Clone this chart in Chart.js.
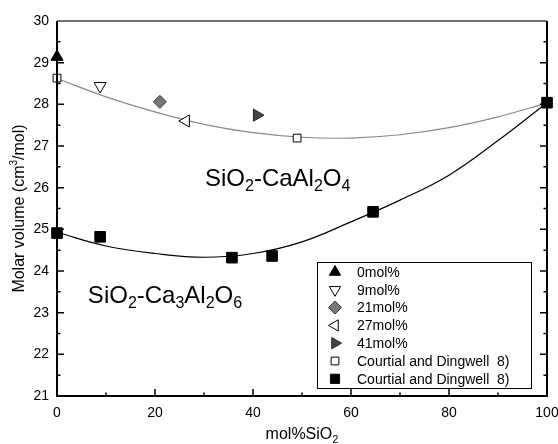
<!DOCTYPE html>
<html>
<head>
<meta charset="utf-8">
<script src="https://cdn.jsdelivr.net/npm/chart.js@4.4.0/dist/chart.umd.min.js"></script>
<style>
  html, body { margin: 0; padding: 0; background: #fff; }
  #wrap { width: 558px; height: 444px; }
</style>
</head>
<body>
<div id="wrap"><canvas id="chart"></canvas></div>
<script>
// fit curves
const fitX = [0, 10, 20, 30, 40, 50, 60, 70, 80, 90, 100];
const caAlFit = [28.62, 28.18, 27.82, 27.52, 27.32, 27.21, 27.19, 27.27, 27.44, 27.70, 28.03];
const ca3AlFit = [24.93, 24.60, 24.42, 24.33, 24.42, 24.70, 25.18, 25.70, 26.30, 27.13, 28.04];

// measured glasses
const glassLabels = ["0mol%", "9mol%", "21mol%", "27mol%", "41mol%"];
const glassX = [0, 8.8, 21.0, 26.3, 40.8];
const glassY = [29.14, 28.44, 28.06, 27.60, 27.74];

// Courtial and Dingwell 8)
const courtialCaAlX = [0, 49, 100];
const courtialCaAlY = [28.63, 27.19, 28.03];
const courtialCa3AlX = [0, 8.8, 35.7, 43.9, 64.5, 100];
const courtialCa3AlY = [24.91, 24.82, 24.32, 24.36, 25.42, 28.04];

const xTicks = [0, 20, 40, 60, 80, 100];
const yTicks = [21, 22, 23, 24, 25, 26, 27, 28, 29, 30];

const FONT = "'Liberation Sans', Arial, sans-serif";

const pts = (xs, ys) => xs.map((x, i) => ({ x: x, y: ys[i] }));

const glassStyles = [
  { pointStyle: "triangle", rotation: 0, bg: "#000", border: "#000", r: 7 },
  { pointStyle: "triangle", rotation: 180, bg: "#fff", border: "#000", r: 7 },
  { pointStyle: "rectRot", rotation: 0, bg: "#777", border: "#333", r: 6.5 },
  { pointStyle: "triangle", rotation: -90, bg: "#fff", border: "#000", r: 7 },
  { pointStyle: "triangle", rotation: 90, bg: "#444", border: "#222", r: 7 }
];

// higher order is drawn first (underneath)
const datasets = [
  {
    type: "line", label: "fit CaAl2O4", data: pts(fitX, caAlFit), clip: false, order: 10,
    borderColor: "#8a8a8a", borderWidth: 1.2, pointRadius: 0, tension: 0.4, fill: false
  },
  {
    type: "line", label: "fit Ca3Al2O6", data: pts(fitX, ca3AlFit), clip: false, order: 9,
    borderColor: "#000", borderWidth: 1.2, pointRadius: 0, tension: 0.4, fill: false
  }
];

glassLabels.forEach((lab, i) => {
  const s = glassStyles[i];
  datasets.push({
    type: "scatter", label: lab, legend: true, clip: false, order: 5,
    data: [{ x: glassX[i], y: glassY[i] }],
    pointStyle: s.pointStyle, rotation: s.rotation,
    pointRadius: s.r, pointBackgroundColor: s.bg, pointBorderColor: s.border, pointBorderWidth: 1
  });
});

datasets.push({
  type: "scatter", label: "Courtial and Dingwell  8)", legend: true, clip: false, order: 3,
  data: pts(courtialCaAlX, courtialCaAlY),
  pointStyle: "rect", pointRadius: 5.5, pointBackgroundColor: "#fff", pointBorderColor: "#000", pointBorderWidth: 1
});
datasets.push({
  type: "scatter", label: "Courtial and Dingwell  8)", legend: true, clip: false, order: 1,
  data: pts(courtialCa3AlX, courtialCa3AlY),
  pointStyle: "rect", pointRadius: 7.5, pointBackgroundColor: "#000", pointBorderColor: "#000", pointBorderWidth: 1
});

// text with subscripts: parts are [text, isSub]
const SUB = 0.66;
function drawRich(ctx, parts, x, y, size) {
  let cx = x;
  parts.forEach(p => {
    const sub = p[1];
    ctx.font = (sub ? Math.round(size * SUB) : size) + "px " + FONT;
    ctx.fillText(p[0], cx, sub ? y + size * 0.3 : y);
    cx += ctx.measureText(p[0]).width;
  });
}
function richWidth(ctx, parts, size) {
  let w = 0;
  parts.forEach(p => {
    ctx.font = (p[1] ? Math.round(size * SUB) : size) + "px " + FONT;
    w += ctx.measureText(p[0]).width;
  });
  return w;
}

const decor = {
  id: "decor",
  afterDraw(chart) {
    const ctx = chart.ctx;
    const a = chart.chartArea;
    const xs = chart.scales.x, ys = chart.scales.y;
    ctx.save();
    // frame
    ctx.strokeStyle = "#000";
    ctx.lineWidth = 2;
    ctx.beginPath();
    ctx.moveTo(a.left, a.top); ctx.lineTo(a.left, a.bottom); ctx.lineTo(a.right, a.bottom); ctx.lineTo(a.right, a.top);
    ctx.stroke();
    ctx.strokeStyle = "#444";
    ctx.lineWidth = 1.5;
    ctx.beginPath(); ctx.moveTo(a.left, a.top); ctx.lineTo(a.right, a.top); ctx.stroke();

    // inward ticks
    ctx.strokeStyle = "#000";
    ctx.lineWidth = 1.5;
    ctx.beginPath();
    for (let v = 10; v < 100; v += 10) {
      const px = xs.getPixelForValue(v);
      const len = v % 20 === 0 ? 7 : 3.5;
      ctx.moveTo(px, a.bottom); ctx.lineTo(px, a.bottom - len);
    }
    for (let v = 21.5; v < 30; v += 0.5) {
      const py = ys.getPixelForValue(v);
      const len = Number.isInteger(v) ? 7 : 3.5;
      ctx.moveTo(a.left, py); ctx.lineTo(a.left + len, py);
      ctx.moveTo(a.right, py); ctx.lineTo(a.right - len, py);
    }
    ctx.stroke();

    // system labels
    ctx.fillStyle = "#000";
    ctx.textAlign = "left";
    ctx.textBaseline = "middle";
    drawRich(ctx, [["SiO", 0], ["2", 1], ["-CaAl", 0], ["2", 1], ["O", 0], ["4", 1]],
      xs.getPixelForValue(30.2), ys.getPixelForValue(26.2), 24);
    drawRich(ctx, [["SiO", 0], ["2", 1], ["-Ca", 0], ["3", 1], ["Al", 0], ["2", 1], ["O", 0], ["6", 1]],
      xs.getPixelForValue(6.3), ys.getPixelForValue(23.4), 24);

    // axis titles
    const xt = [["mol%SiO", 0], ["2", 1]];
    const xw = richWidth(ctx, xt, 16);
    drawRich(ctx, xt, (a.left + a.right) / 2 - xw / 2, 435, 16);

    ctx.save();
    ctx.translate(20, (a.top + a.bottom) / 2);
    ctx.rotate(-Math.PI / 2);
    ctx.font = "16px " + FONT;
    const w1 = ctx.measureText("Molar volume (cm").width;
    ctx.font = "10px " + FONT;
    const w2 = ctx.measureText("3").width;
    ctx.font = "16px " + FONT;
    const w3 = ctx.measureText("/mol)").width;
    let cx = -(w1 + w2 + w3) / 2;
    ctx.fillText("Molar volume (cm", cx, 0); cx += w1;
    ctx.font = "10px " + FONT;
    ctx.fillText("3", cx, -6); cx += w2;
    ctx.font = "16px " + FONT;
    ctx.fillText("/mol)", cx, 0);
    ctx.restore();

    // legend box, bottom right inside plot
    const items = chart.data.datasets.filter(d => d.legend);
    const bx = 317, by = 262, bw = 214, bh = 126, rowH = 17.8;
    ctx.fillStyle = "#fff";
    ctx.fillRect(bx, by, bw, bh);
    ctx.strokeStyle = "#000";
    ctx.lineWidth = 1;
    ctx.strokeRect(bx + 0.5, by + 0.5, bw, bh);
    items.forEach((d, i) => {
      const cy = by + 10 + i * rowH;
      ctx.fillStyle = d.pointBackgroundColor;
      ctx.strokeStyle = d.pointBorderColor;
      ctx.lineWidth = 1;
      Chart.helpers.drawPoint(ctx, {
        pointStyle: d.pointStyle,
        rotation: d.rotation || 0,
        radius: Math.min(d.pointRadius, 6.5),
        borderWidth: 1
      }, 335, cy);
      ctx.fillStyle = "#000";
      ctx.font = "14px " + FONT;
      ctx.textAlign = "left";
      ctx.textBaseline = "middle";
      ctx.fillText(d.label, 357, cy + 1);
    });
    ctx.restore();
  }
};

new Chart(document.getElementById("chart"), {
  type: "scatter",
  data: { datasets: datasets },
  plugins: [decor],
  options: {
    responsive: true,
    maintainAspectRatio: false,
    animation: false,
    layout: { padding: { left: 0, right: 11, top: 21, bottom: 0 } },
    plugins: { legend: { display: false }, tooltip: { enabled: false } },
    scales: {
      x: {
        type: "linear", min: 0, max: 100,
        afterBuildTicks: s => { s.ticks = xTicks.map(v => ({ value: v })); },
        afterFit: s => { s.height = 48; s.paddingRight = 0; s.paddingLeft = 0; },
        grid: { display: false, drawTicks: false },
        border: { display: false },
        ticks: { color: "#000", font: { family: FONT, size: 14 }, padding: 9, maxRotation: 0 }
      },
      y: {
        type: "linear", min: 21, max: 30,
        afterBuildTicks: s => { s.ticks = yTicks.map(v => ({ value: v })); },
        afterFit: s => { s.width = 57; s.paddingTop = 0; s.paddingBottom = 0; },
        grid: { display: false, drawTicks: false },
        border: { display: false },
        ticks: { color: "#000", font: { family: FONT, size: 14 }, padding: 8 }
      }
    }
  }
});
</script>
</body>
</html>
